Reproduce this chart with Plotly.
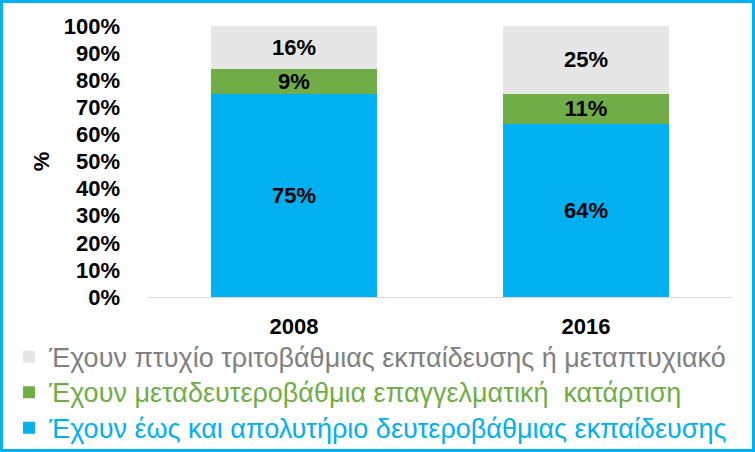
import plotly.graph_objects as go

years = ["2008", "2016"]
secondary = [75, 64]
post_secondary = [9, 11]
tertiary = [16, 25]

names = [
    "Έχουν έως και απολυτήριο δευτεροβάθμιας εκπαίδευσης",
    "Έχουν μεταδευτεροβάθμια επαγγελματική  κατάρτιση",
    "Έχουν πτυχίο τριτοβάθμιας εκπαίδευσης ή μεταπτυχιακό",
]
bar_colors = ["#00B0F0", "#70AD47", "#E7E6E6"]
text_colors = ["#00B0F0", "#70AD47", "#808080"]
y_ticks = list(range(0, 101, 10))
y_labels = [f"{v}%" for v in y_ticks]

W, H = 755, 452
ML, MR, MT, MB = 148, 23, 26, 155
pw, ph = W - ML - MR, H - MT - MB

fig = go.Figure()
for i, (vals, name, bc, tc) in enumerate(zip([secondary, post_secondary, tertiary], names, bar_colors, text_colors)):
    fig.add_trace(go.Bar(
        x=years, y=vals,
        # legend rows are spaced by the legend font size, the glyphs are a bit bigger
        name=f"<span style='color:{tc};font-size:27px'>{name}</span>",
        legendgroup=name, legendrank=10 - i,
        marker=dict(color=bc, line=dict(width=0)),
        texttemplate="%{y}%", textposition="inside", insidetextanchor="middle",
        textfont=dict(family="Liberation Sans, Arial", size=22, color="black", weight="bold"),
        hoverinfo="skip",
    ))

# frame around the whole picture, in paper coordinates
fig.add_shape(type="rect", xref="paper", yref="paper",
              x0=(1.5 - ML) / pw, x1=(W - 1.5 - ML) / pw,
              y0=(MT + ph - (H - 1.5)) / ph, y1=(MT + ph - 1.5) / ph,
              line=dict(color="#00B0F0", width=3))

fig.update_layout(
    width=W, height=H,
    margin=dict(l=ML, r=MR, t=MT, b=MB, autoexpand=False),
    barmode="stack", bargap=0.43,
    plot_bgcolor="white", paper_bgcolor="white",
    font=dict(family="Liberation Sans, Arial", color="black"),
    uniformtext=dict(minsize=22, mode="show"),
    showlegend=True,
    legend=dict(
        x=(9 - ML) / pw, y=(MT + ph - 334) / ph, xanchor="left", yanchor="top",
        traceorder="grouped", tracegroupgap=0,
        font=dict(size=25, family="Liberation Sans, Arial"),
        bgcolor="rgba(0,0,0,0)",
    ),
    xaxis=dict(
        showline=True, linecolor="#D9D9D9", linewidth=1,
        showgrid=False, ticks="", ticklabelstandoff=10,
        tickfont=dict(size=22, weight="bold"),
    ),
    yaxis=dict(
        range=[0, 100], tickvals=y_ticks, ticktext=y_labels,
        showgrid=False, zeroline=False, showline=False, ticks="",
        ticklabelstandoff=27,
        tickfont=dict(size=22, weight="bold"),
        title=dict(text="%", standoff=8, font=dict(size=22, weight="bold")),
    ),
)

# drop the browser's default page margin so the figure sits at the window corner
fig.write_html("out.html", config={"displayModeBar": False},
               post_script="document.body.style.margin='0';")
